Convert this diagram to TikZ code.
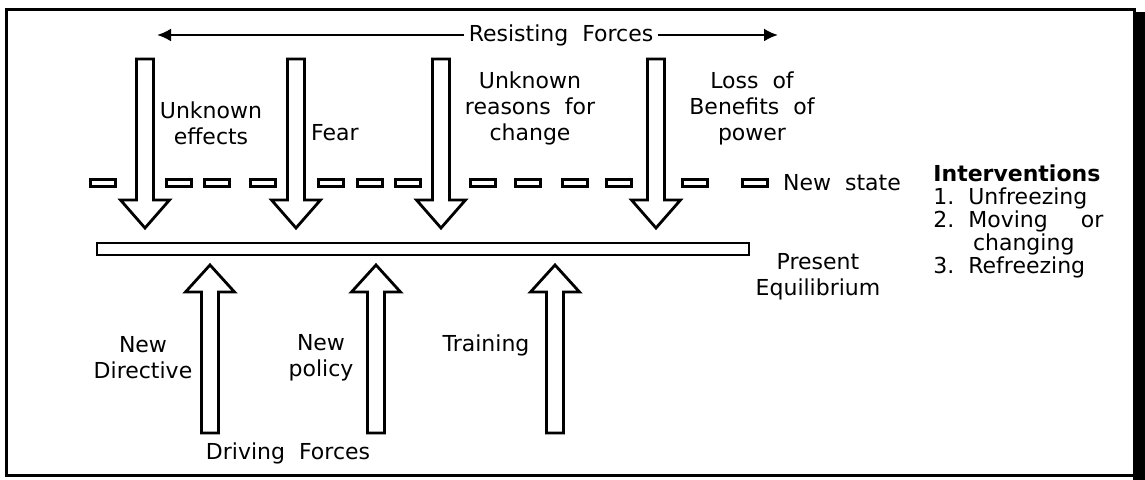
\documentclass[tikz,border=0pt]{standalone}
\usepackage{fontspec}
\setmainfont{DejaVu Sans}
\usetikzlibrary{arrows.meta}

\begin{document}
\begin{tikzpicture}[x=0.5pt, y=-0.5pt,
        blockarrow/.style={draw, line width=1.4pt, fill=white, line join=miter},
        dashbox/.style={draw, line width=1.5pt},
        lbl/.style={font=\fontsize{11}{13}\selectfont, align=center, inner sep=0pt}]
        \useasboundingbox (0,0) rectangle (1145,480);

        % frame, heavy on the right
        \draw[line width=1.5pt] (6,10) rectangle (1134,475);
        \fill (1133,12) rectangle (1145,480);

        % new state line
        \foreach \x in {90,166,204,250,318,357,395,470,515,562,606,682,742} {
            \draw[dashbox] (\x,180) rectangle ++(25,7);
        }
        % present equilibrium bar
        \draw[line width=1.4pt] (97,243) rectangle (749,255);

        % resisting forces (down)
        \foreach \x in {145,296,441,656} {
            \draw[blockarrow] (\x-8.5,59) -- (\x+8.5,59) -- (\x+8.5,200) -- (\x+24.5,200)
                -- (\x,228) -- (\x-24.5,200) -- (\x-8.5,200) -- cycle;
        }
        % driving forces (up)
        \foreach \x in {210,376,555} {
            \draw[blockarrow] (\x-8.5,433) -- (\x+8.5,433) -- (\x+8.5,292) -- (\x+24.5,292)
                -- (\x,265) -- (\x-24.5,292) -- (\x-8.5,292) -- cycle;
        }

        \node[lbl, inner sep=2pt] (resist) at (561,35) {Resisting\ \ Forces};
        \coordinate (resL) at (157,35);
        \coordinate (resR) at (778,35);
        \draw[-{Latex[length=7pt,width=6.5pt]}, line width=1.2pt] (resist) -- (resL);
        \draw[-{Latex[length=7pt,width=6.5pt]}, line width=1.2pt] (resist) -- (resR);

        \node[lbl] (unkeff) at (211,123) {Unknown\\effects};
        \node[lbl] (fear) at (335,133) {Fear};
        \node[lbl] (unkreason) at (530,108) {Unknown\\reasons\ \ for\\change};
        \node[lbl] (lossben) at (752,108) {Loss\ \ of\\Benefits\ \ of\\power};
        \node[lbl] (newstate) at (842,183) {New\ \ state};
        \node[lbl] (present) at (818,277) {Present\\Equilibrium};

        \node[lbl, font=\fontsize{11}{11.6}\selectfont, align=left, anchor=north west] (interv) at (933,164)
            {\textbf{Interventions}\\1.\ \ Unfreezing\\2.\ \ Moving\hspace{1.5em}or\\\hspace{1.8em}changing\\3.\ \ Refreezing};

        \node[lbl] (newdir) at (143,358) {New\\Directive};
        \node[lbl] (newpol) at (321,358) {New\\policy};
        \node[lbl] (training) at (486,345) {Training};
        \node[lbl] (driving) at (288,453) {Driving\ \ Forces};

    \end{tikzpicture}
\end{document}
